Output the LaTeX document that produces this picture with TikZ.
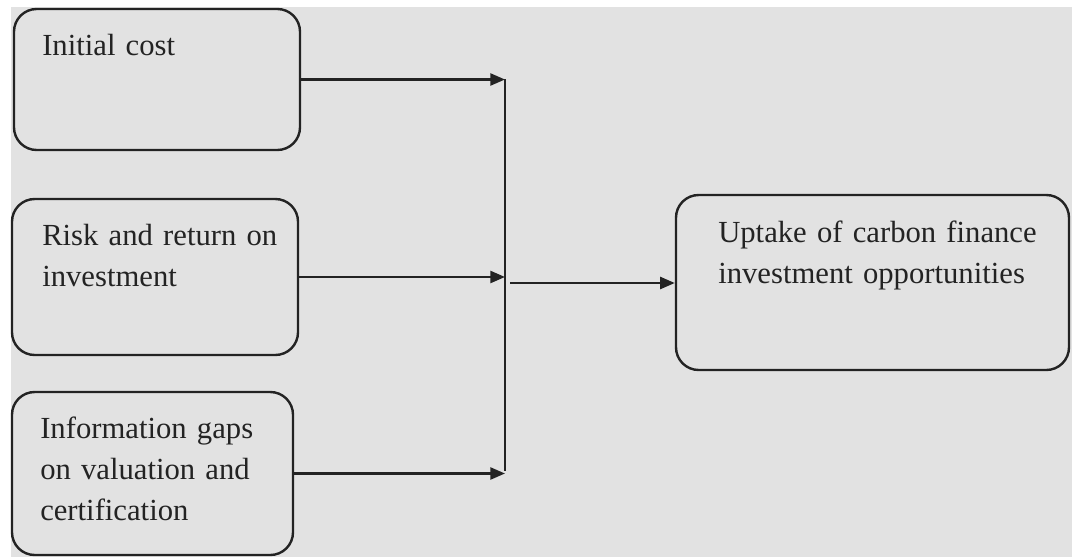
\documentclass[tikz,border=0pt]{standalone}
\usepackage{fontspec}
\setmainfont{Liberation Serif}
\usetikzlibrary{arrows.meta,fit}
\definecolor{scanbg}{RGB}{226,226,226}
\definecolor{ink}{RGB}{35,35,35}
\definecolor{txt}{RGB}{35,35,35}
\newcommand\lblfont{\fontsize{23}{31}\selectfont\raggedright\spaceskip=0.2em plus 0.05em\relax}
\begin{document}
\begin{tikzpicture}[x=0.75pt,y=-0.75pt,
  box/.style={draw=ink, line width=1.8pt, rounded corners=17pt, inner sep=0pt},
  lbl/.style={anchor=base west, inner sep=0pt, text=txt, text width=300pt,
    font=\lblfont},
  arr/.style={draw=ink, line width=1.8pt, -{Triangle[length=11pt,width=9pt]}},
  ln/.style={draw=ink, line width=1.7pt}]
\useasboundingbox (0,0) rectangle (1072,557);
\fill[white] (0,0) rectangle (1072,557);
\fill[scanbg] (11,7) rectangle (1072,557);
% boxes
\node[box, fit={(14,9) (300,150)}] (b1) {};
\node[box, fit={(12,199) (298,355)}] (b2) {};
\node[box, fit={(12,392) (293,555)}] (b3) {};
\node[box, fit={(676,195) (1069,370)}] (b4) {};
% labels
\node[lbl] (t1) at (42,55) {Initial cost};
\node[lbl] (t2) at (42,245) {Risk and return on\\investment};
\node[lbl] (t3) at (40,438) {Information gaps\\on valuation and\\certification};
\node[lbl] (t4) at (718,242) {Uptake of carbon finance\\investment opportunities};
% junction
\coordinate (jt) at (505,79);
\coordinate (jb) at (505,471);
\coordinate (mid) at (510,283);
\draw[ln] (jt) -- (jb);
\draw[arr] (b1.east) -- (b1.east -| jt);
\draw[arr] (b2.east) -- (b2.east -| jt);
\draw[arr] (b3.east) -- (b3.east -| jt);
\draw[arr] (mid) -- (mid -| b4.west);
\end{tikzpicture}
\end{document}
